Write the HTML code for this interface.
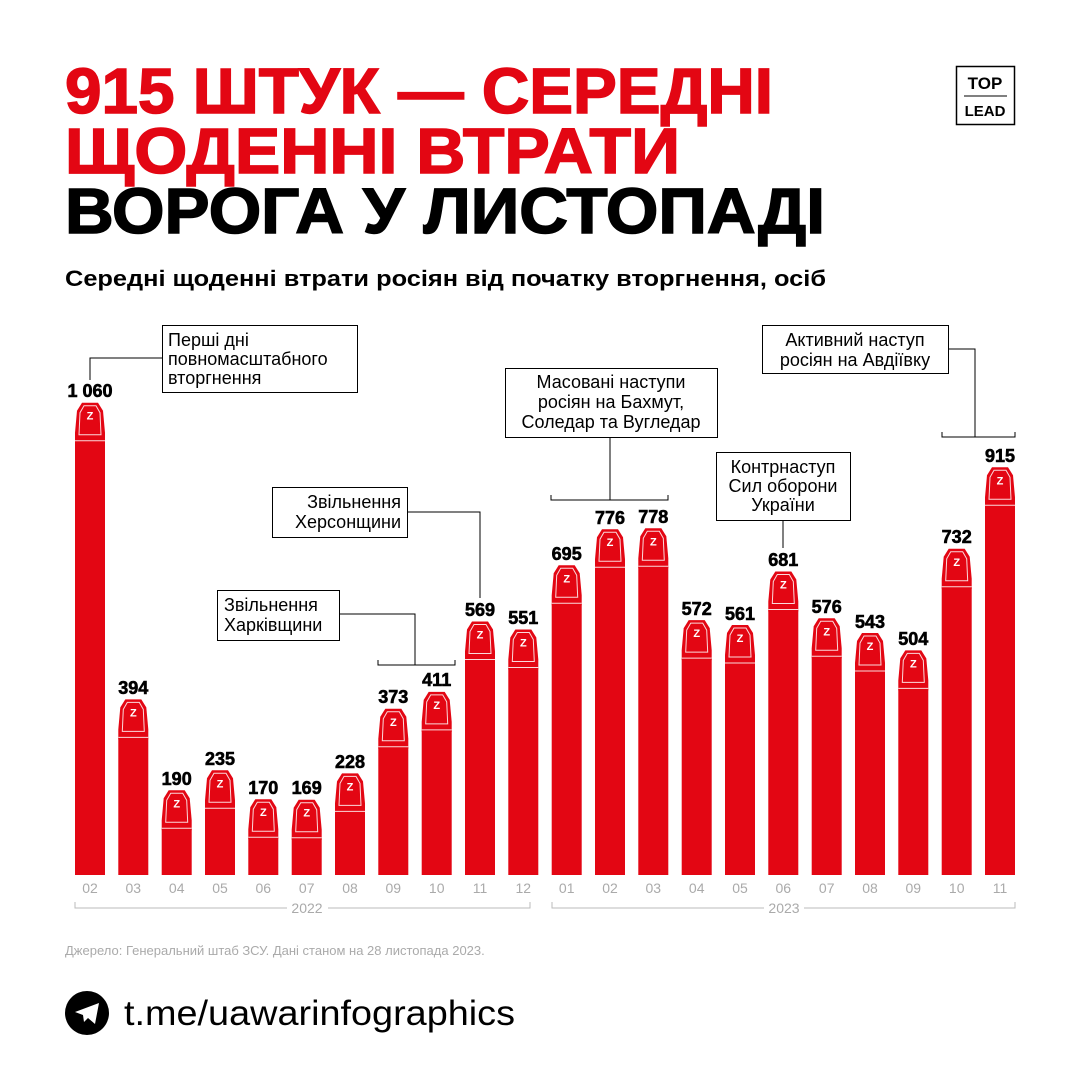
<!DOCTYPE html>
<html><head><meta charset="utf-8"><style>
html,body{margin:0;padding:0;background:#fff}
svg{display:block}
text{font-family:"Liberation Sans","DejaVu Sans",sans-serif}
</style></head><body>
<svg width="1080" height="1080" viewBox="0 0 1080 1080" xmlns="http://www.w3.org/2000/svg">
<defs>
<g id="cap">
<polygon points="-8,0 8,0 13,8 15,30 15,40 -15,40 -15,30 -13,8" fill="#e30613"/>
<polygon points="-6,3 6,3 10,10 11,32 -11,32 -10,10" fill="none" stroke="#fff" stroke-width="1" opacity="0.85"/>
<line x1="-15" y1="38" x2="15" y2="38" stroke="#fff" stroke-width="1" opacity="0.85"/>
<text x="0" y="17" font-size="11" fill="#fff" text-anchor="middle" font-weight="bold">Z</text>
</g>
</defs>
<!-- title -->
<g font-weight="bold">
<text x="65" y="113" font-size="64" fill="#e30613" stroke="#e30613" stroke-width="1.5" textLength="708" lengthAdjust="spacingAndGlyphs">915 ШТУК — СЕРЕДНІ</text>
<text x="65" y="173" font-size="64" fill="#e30613" stroke="#e30613" stroke-width="1.5" textLength="615" lengthAdjust="spacingAndGlyphs">ЩОДЕННІ ВТРАТИ</text>
<text x="65" y="233" font-size="64" fill="#000" stroke="#000" stroke-width="1.5" textLength="760" lengthAdjust="spacingAndGlyphs">ВОРОГА У ЛИСТОПАДІ</text>
<text x="65" y="286" font-size="22" fill="#000" textLength="761" lengthAdjust="spacingAndGlyphs">Середні щоденні втрати росіян від початку вторгнення, осіб</text>
</g>
<!-- logo -->
<rect x="956.5" y="66.5" width="58" height="58" fill="none" stroke="#000" stroke-width="1.5"/>
<text x="985" y="89" font-size="17" font-weight="bold" text-anchor="middle">TOP</text>
<line x1="964" y1="96" x2="1007" y2="96" stroke="#000" stroke-width="1"/>
<text x="985" y="116" font-size="15" font-weight="bold" text-anchor="middle">LEAD</text>

<!-- annotations -->
<g fill="none" stroke="#000" stroke-width="1">
<rect x="162.5" y="325.5" width="195" height="67" fill="#fff"/>
<polyline points="162,358 90,358 90,380"/>
<rect x="272.5" y="487.5" width="135" height="50" fill="#fff"/>
<polyline points="407,512 480,512 480,598"/>
<rect x="217.5" y="590.5" width="122" height="50" fill="#fff"/>
<polyline points="339,614 415,614 415,665"/>
<polyline points="378,660 378,665 455,665 455,660"/>
<rect x="505.5" y="368.5" width="212" height="69" fill="#fff"/>
<polyline points="610,437 610,500"/>
<polyline points="551,495 551,500 668,500 668,495"/>
<rect x="716.5" y="452.5" width="134" height="68" fill="#fff"/>
<polyline points="783,520 783,548"/>
<rect x="762.5" y="325.5" width="186" height="48" fill="#fff"/>
<polyline points="948,349 975,349 975,437"/>
<polyline points="942,432 942,437 1015,437 1015,432"/>
</g>
<g font-size="18" fill="#000">
<text x="168" y="346">Перші дні</text>
<text x="168" y="365">повномасштабного</text>
<text x="168" y="384">вторгнення</text>
<g text-anchor="end"><text x="401" y="508">Звільнення</text>
<text x="401" y="528">Херсонщини</text></g>
<text x="224" y="611">Звільнення</text>
<text x="224" y="631">Харківщини</text>
<g text-anchor="middle">
<text x="611" y="388">Масовані наступи</text>
<text x="611" y="408">росіян на Бахмут,</text>
<text x="611" y="428">Соледар та Вугледар</text>
<text x="783" y="473">Контрнаступ</text>
<text x="783" y="492">Сил оборони</text>
<text x="783" y="511">України</text>
<text x="855" y="346">Активний наступ</text>
<text x="855" y="366">росіян на Авдіївку</text>
</g>
</g>

<!-- bars -->
<g>
<g transform="translate(90,402.7)"><rect x="-15" y="38" width="30" height="434.3" fill="#e30613"/><use href="#cap"/></g>
<g transform="translate(133.3,699.4)"><rect x="-15" y="38" width="30" height="137.6" fill="#e30613"/><use href="#cap"/></g>
<g transform="translate(176.7,790.3)"><rect x="-15" y="38" width="30" height="46.7" fill="#e30613"/><use href="#cap"/></g>
<g transform="translate(220,770.3)"><rect x="-15" y="38" width="30" height="66.7" fill="#e30613"/><use href="#cap"/></g>
<g transform="translate(263.3,799.2)"><rect x="-15" y="38" width="30" height="37.8" fill="#e30613"/><use href="#cap"/></g>
<g transform="translate(306.7,799.7)"><rect x="-15" y="38" width="30" height="37.3" fill="#e30613"/><use href="#cap"/></g>
<g transform="translate(350,773.4)"><rect x="-15" y="38" width="30" height="63.6" fill="#e30613"/><use href="#cap"/></g>
<g transform="translate(393.3,708.8)"><rect x="-15" y="38" width="30" height="128.2" fill="#e30613"/><use href="#cap"/></g>
<g transform="translate(436.7,691.9)"><rect x="-15" y="38" width="30" height="145.1" fill="#e30613"/><use href="#cap"/></g>
<g transform="translate(480,621.5)"><rect x="-15" y="38" width="30" height="215.5" fill="#e30613"/><use href="#cap"/></g>
<g transform="translate(523.3,629.5)"><rect x="-15" y="38" width="30" height="207.5" fill="#e30613"/><use href="#cap"/></g>
<g transform="translate(566.7,565.3)"><rect x="-15" y="38" width="30" height="271.7" fill="#e30613"/><use href="#cap"/></g>
<g transform="translate(610,529.2)"><rect x="-15" y="38" width="30" height="307.8" fill="#e30613"/><use href="#cap"/></g>
<g transform="translate(653.3,528.3)"><rect x="-15" y="38" width="30" height="308.7" fill="#e30613"/><use href="#cap"/></g>
<g transform="translate(696.7,620.1)"><rect x="-15" y="38" width="30" height="216.9" fill="#e30613"/><use href="#cap"/></g>
<g transform="translate(740,625)"><rect x="-15" y="38" width="30" height="212" fill="#e30613"/><use href="#cap"/></g>
<g transform="translate(783.3,571.5)"><rect x="-15" y="38" width="30" height="265.5" fill="#e30613"/><use href="#cap"/></g>
<g transform="translate(826.7,618.3)"><rect x="-15" y="38" width="30" height="218.7" fill="#e30613"/><use href="#cap"/></g>
<g transform="translate(870,633)"><rect x="-15" y="38" width="30" height="204" fill="#e30613"/><use href="#cap"/></g>
<g transform="translate(913.3,650.4)"><rect x="-15" y="38" width="30" height="186.6" fill="#e30613"/><use href="#cap"/></g>
<g transform="translate(956.7,548.8)"><rect x="-15" y="38" width="30" height="288.2" fill="#e30613"/><use href="#cap"/></g>
<g transform="translate(1000,467.3)"><rect x="-15" y="38" width="30" height="369.7" fill="#e30613"/><use href="#cap"/></g>
</g>

<!-- value labels -->
<g font-size="18" font-weight="bold" text-anchor="middle" fill="#000" stroke="#000" stroke-width="0.6">
<text x="90" y="397">1 060</text>
<text x="133.3" y="694">394</text>
<text x="176.7" y="785">190</text>
<text x="220" y="765">235</text>
<text x="263.3" y="794">170</text>
<text x="306.7" y="794">169</text>
<text x="350" y="768">228</text>
<text x="393.3" y="703">373</text>
<text x="436.7" y="686">411</text>
<text x="480" y="616">569</text>
<text x="523.3" y="624">551</text>
<text x="566.7" y="560">695</text>
<text x="610" y="524">776</text>
<text x="653.3" y="523">778</text>
<text x="696.7" y="615">572</text>
<text x="740" y="620">561</text>
<text x="783.3" y="566">681</text>
<text x="826.7" y="613">576</text>
<text x="870" y="628">543</text>
<text x="913.3" y="645">504</text>
<text x="956.7" y="543">732</text>
<text x="1000" y="462">915</text>
</g>

<!-- axis -->
<g font-size="14" fill="#aaa" text-anchor="middle">
<text x="90" y="893">02</text><text x="133.3" y="893">03</text><text x="176.7" y="893">04</text><text x="220" y="893">05</text><text x="263.3" y="893">06</text><text x="306.7" y="893">07</text><text x="350" y="893">08</text><text x="393.3" y="893">09</text><text x="436.7" y="893">10</text><text x="480" y="893">11</text><text x="523.3" y="893">12</text><text x="566.7" y="893">01</text><text x="610" y="893">02</text><text x="653.3" y="893">03</text><text x="696.7" y="893">04</text><text x="740" y="893">05</text><text x="783.3" y="893">06</text><text x="826.7" y="893">07</text><text x="870" y="893">08</text><text x="913.3" y="893">09</text><text x="956.7" y="893">10</text><text x="1000" y="893">11</text>
</g>
<g fill="none" stroke="#bbb" stroke-width="1">
<polyline points="75,902 75,908 287,908"/><polyline points="328,908 530,908 530,902"/>
<polyline points="552,902 552,908 764,908"/><polyline points="804,908 1015,908 1015,902"/>
</g>
<text x="307" y="913" font-size="14" fill="#aaa" text-anchor="middle">2022</text>
<text x="784" y="913" font-size="14" fill="#aaa" text-anchor="middle">2023</text>

<text x="65" y="955" font-size="13" fill="#aaa">Джерело: Генеральний штаб ЗСУ. Дані станом на 28 листопада 2023.</text>

<!-- telegram -->
<circle cx="87" cy="1013" r="22" fill="#000"/>
<polygon points="75,1012 99,1003 95,1024 88,1018 84,1022 83,1015" fill="#fff"/>
<text x="124" y="1025" font-size="35" fill="#000" textLength="391" lengthAdjust="spacingAndGlyphs">t.me/uawarinfographics</text>
</svg>
</body></html>
